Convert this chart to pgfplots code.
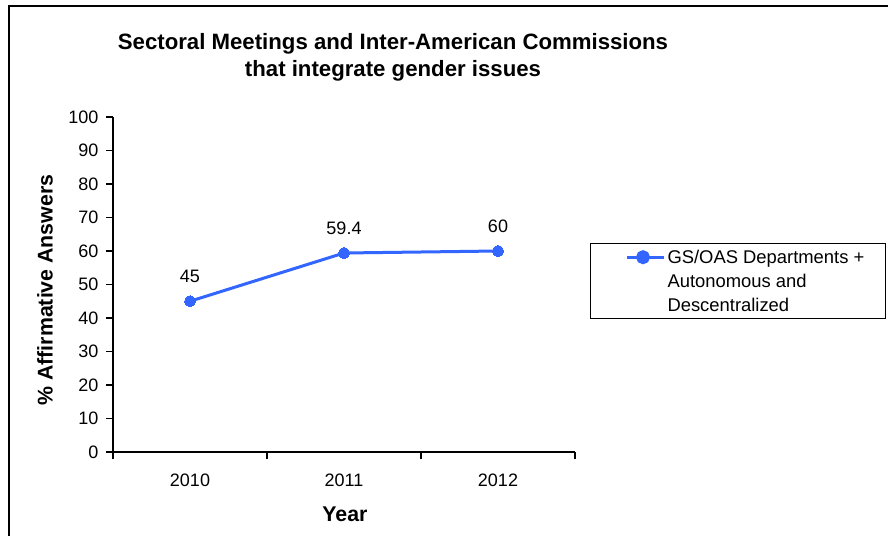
\documentclass[border=0pt]{standalone}
\usepackage{pgfplots}
\pgfplotsset{compat=1.18}
\usepackage{fontspec}
\setmainfont{Liberation Sans}
\definecolor{lineblue}{HTML}{3366FF}
\begin{document}
\begin{tikzpicture}[x=1pt,y=1pt]
\useasboundingbox (0,0) rectangle (888,535);
\fill[white] (0,0) rectangle (888,535);
\draw[line width=1.5pt] (9,-20) rectangle (910,529);
\node[font=\bfseries\fontsize{22.2}{27}\selectfont, align=center] at (393,477.5) {Sectoral Meetings and Inter-American Commissions\\that integrate gender issues};
\begin{axis}[
  at={(113pt,83pt)}, anchor=south west, scale only axis,
  width=462pt, height=335pt,
  xmin=-0.5, xmax=2.5, ymin=0, ymax=100,
  axis x line=bottom, axis y line=left,
  axis line style={line width=1.3pt, -, black},
  xtick={0,1,2}, xticklabels={2010,2011,2012},
  major x tick style={draw=none},
  minor xtick={-0.5,0.5,1.5,2.5},
  ytick={0,10,...,100},
  tick align=outside, major tick length=7pt, minor tick length=7pt,
  tick style={line width=1.3pt, black},
  /pgf/number format/assume math mode=true,
  tick label style={font=\fontsize{18}{21}\selectfont},
  yticklabel style={xshift=-4pt},
  xticklabel style={yshift=-11pt},
  xlabel={Year}, ylabel={\% Affirmative Answers},
  label style={font=\bfseries\fontsize{21.3}{24}\selectfont},
  xlabel style={at={(axis description cs:0.502,-0.185)}, anchor=center},
  ylabel style={at={(axis description cs:-0.147,0.4836)}, anchor=center, rotate=0},
  nodes near coords,
  nodes near coords style={anchor=south, yshift=15pt, font=\fontsize{18}{21}\selectfont, black},
  clip=false,
  legend style={at={(1.0325,0.623)}, anchor=north west, draw=black, line width=1pt,
    inner xsep=7pt, inner ysep=4pt, font=\fontsize{18.4}{24}\selectfont, cells={align=left}},
  legend cell align=left,
  legend image code/.code={\path (0pt,0pt); \draw[lineblue, line width=3pt] (28pt,24pt)--(65pt,24pt); \fill[lineblue] (44pt,24pt) circle (5.5pt);},
]
\addplot[lineblue, line width=3pt, mark=*, mark size=5.5pt, mark options={fill=lineblue, draw=lineblue, line width=0pt}]
  coordinates {(0,45) (1,59.4) (2,60)};
\addlegendentry{GS/OAS Departments +\hspace*{12pt}\mbox{}\\Autonomous and\\Descentralized}
\end{axis}
\end{tikzpicture}
\end{document}
